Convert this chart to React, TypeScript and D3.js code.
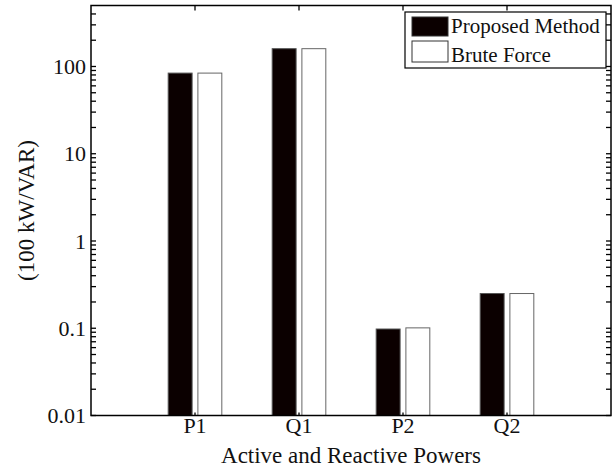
import React from 'react';
import * as d3 from 'd3';

const categories = ['P1', 'Q1', 'P2', 'Q2'];
const proposedMethod = [84, 160, 0.098, 0.25];
const bruteForce = [84, 160, 0.101, 0.25];
const yTickValues = [0.01, 0.1, 1, 10, 100];
const yTickLabels = ['0.01', '0.1', '1', '10', '100'];
const seriesNames = ['Proposed Method', 'Brute Force'];

const W = 615;
const H = 470;
const margin = { top: 5.5, right: 4, bottom: 54.5, left: 91 };
const font = "'Liberation Serif', 'Times New Roman', Times, serif";
const tickTxt = { fontFamily: font, fontSize: 22 };
const labelTxt = { fontFamily: font, fontSize: 23 };
const legendTxt = { fontFamily: font, fontSize: 21 };

const App = () => {
  const x = d3.scaleLinear().domain([0, 5]).range([margin.left, W - margin.right]);
  const y = d3.scaleLog().domain([0.01, 500]).range([H - margin.bottom, margin.top]);

  const x0 = x.range()[0];
  const x1 = x.range()[1];
  const yb = y.range()[0];
  const yt = y.range()[1];

  // minor ticks 2..9 per decade
  const minor: number[] = [];
  for (let e = -2; e <= 2; e++) {
    for (let m = 2; m <= 9; m++) {
      const v = m * Math.pow(10, e);
      if (v < 500) minor.push(v);
    }
  }

  const unit = x(1) - x(0);
  const barW = 0.23 * unit;
  const offset = 0.1428 * unit;
  const tickLen = 5;

  const series = [
    { values: proposedMethod, fill: '#0b0000', stroke: '#555', dx: -offset },
    { values: bruteForce, fill: '#ffffff', stroke: '#666', dx: offset },
  ];

  return (
    <svg
      width={W}
      height={H}
      style={{ position: 'absolute', left: 0, top: 0, background: '#fff', fontFamily: font }}
    >
      <rect x={0} y={0} width={W} height={H} fill="#fff" />
      {/* bars */}
      {series.map((s, si) =>
        s.values.map((v, i) => (
          <rect
            key={`${si}-${i}`}
            x={x(i + 1) + s.dx - barW / 2}
            y={y(v)}
            width={barW}
            height={yb - y(v)}
            fill={s.fill}
            stroke={s.stroke}
            strokeWidth={1}
          />
        ))
      )}

      {/* y ticks left and right */}
      {yTickValues.concat(minor).map((v, i) => (
        <g key={`yt${i}`} stroke="#000" strokeWidth={1.3}>
          <line x1={x0} x2={x0 + tickLen} y1={y(v)} y2={y(v)} />
          <line x1={x1} x2={x1 - tickLen} y1={y(v)} y2={y(v)} />
        </g>
      ))}
      {yTickValues.map((v, i) => (
        <text key={`yl${i}`} x={x0 - 5} y={y(v)} dy="0.35em" textAnchor="end" style={tickTxt} fill="#111">
          {yTickLabels[i]}
        </text>
      ))}

      {/* x ticks bottom and top */}
      {categories.map((c, i) => (
        <g key={`xt${i}`}>
          <line x1={x(i + 1)} x2={x(i + 1)} y1={yb} y2={yb - 3} stroke="#000" strokeWidth={1.3} />
          <line x1={x(i + 1)} x2={x(i + 1)} y1={yt} y2={yt + tickLen} stroke="#000" strokeWidth={1.3} />
          <text x={x(i + 1)} y={yb + 17} textAnchor="middle" style={tickTxt} fill="#111">
            {c}
          </text>
        </g>
      ))}

      {/* axes box */}
      <rect x={x0} y={yt} width={x1 - x0} height={yb - yt} fill="none" stroke="#000" strokeWidth={1.5} />

      <text x={(x0 + x1) / 2} y={463} textAnchor="middle" style={labelTxt} fill="#111">
        Active and Reactive Powers
      </text>
      <text
        transform={`translate(34,${(yt + yb) / 2}) rotate(-90)`}
        textAnchor="middle"
        style={labelTxt}
        fill="#111"
      >
        (100 kW/VAR)
      </text>

      {/* legend */}
      <g>
        <rect x={405} y={12} width={201} height={56} fill="#fff" stroke="#000" strokeWidth={1.2} />
        <rect x={412} y={17} width={36} height={19} fill="#0b0000" stroke="#333" />
        <rect x={412} y={41} width={36} height={21} fill="#fff" stroke="#333" />
        <text x={451} y={33} style={legendTxt} fill="#111">
          {seriesNames[0]}
        </text>
        <text x={451} y={62} style={legendTxt} fill="#111">
          {seriesNames[1]}
        </text>
      </g>
    </svg>
  );
};

export default App;
